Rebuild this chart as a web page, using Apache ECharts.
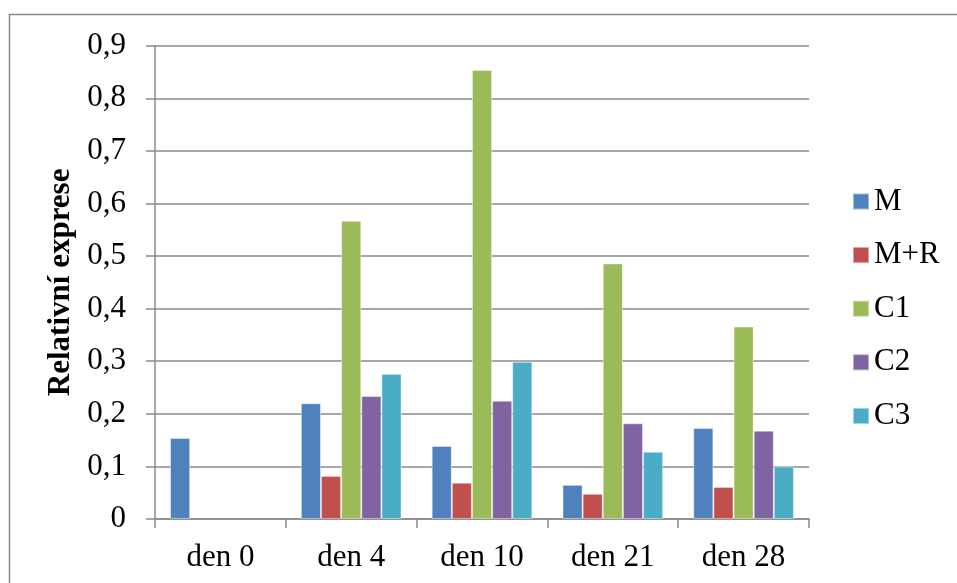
<!DOCTYPE html>
<html>
<head>
<meta charset="utf-8">
<script src="https://cdn.jsdelivr.net/npm/echarts@6/dist/echarts.min.js"></script>
<style>
  html, body { margin: 0; padding: 0; background: #fff; }
  #chart { width: 957px; height: 583px; }
</style>
</head>
<body>
<div id="chart"></div>
<script>
// Relative expression per sampling day
const categories = ['den 0', 'den 4', 'den 10', 'den 21', 'den 28'];
const seriesNames = ['M', 'M+R', 'C1', 'C2', 'C3'];
const valuesM  = [0.154, 0.220, 0.139, 0.065, 0.173];
const valuesMR = [null, 0.082, 0.069, 0.048, 0.061];
const valuesC1 = [null, 0.567, 0.854, 0.486, 0.366];
const valuesC2 = [null, 0.234, 0.225, 0.182, 0.168];
const valuesC3 = [null, 0.276, 0.299, 0.128, 0.100];
const colors = ['#4F81BD', '#C0504D', '#9BBB59', '#8064A2', '#4BACC6'];

const FONT = "'Liberation Serif', 'Times New Roman', serif";
const GRAY = '#8a8a8a';

const seriesData = [valuesM, valuesMR, valuesC1, valuesC2, valuesC3];

const chart = echarts.init(document.getElementById('chart'), null, { renderer: 'canvas' });

chart.setOption({
  animation: false,
  color: colors,
  graphic: [{
    type: 'rect',
    shape: { x: 9.5, y: 14.5, width: 1000, height: 700 },
    style: { fill: 'none', stroke: GRAY, lineWidth: 1.5 },
    silent: true
  }],
  grid: { left: 155, right: 148, top: 45.7, bottom: 64, containLabel: false },
  legend: {
    orient: 'vertical',
    left: 852,
    top: 186,
    padding: 0,
    itemWidth: 16,
    itemHeight: 16,
    itemGap: 22.6,
    icon: 'rect',
    textStyle: { fontFamily: FONT, fontSize: 31, color: '#000', lineHeight: 30 },
    data: seriesNames
  },
  xAxis: {
    type: 'category',
    data: categories,
    axisLine: { lineStyle: { color: GRAY, width: 1.5 } },
    axisTick: { show: true, length: 9, lineStyle: { color: GRAY, width: 1.5 } },
    axisLabel: { fontFamily: FONT, fontSize: 31, color: '#000', margin: 23 },
    splitLine: { show: false }
  },
  yAxis: {
    type: 'value',
    min: 0,
    max: 0.9,
    interval: 0.1,
    name: 'Relativní exprese',
    nameLocation: 'middle',
    nameGap: 78,
    nameRotate: 90,
    nameTextStyle: { fontFamily: FONT, fontSize: 31, fontWeight: 'bold', color: '#000' },
    axisLine: { show: true, lineStyle: { color: GRAY, width: 1.5 } },
    axisTick: { show: true, length: 9, lineStyle: { color: GRAY, width: 1.5 } },
    axisLabel: {
      fontFamily: FONT, fontSize: 31, color: '#000', margin: 29,
      formatter: v => (Math.round(v * 10) / 10).toString().replace('.', ',')
    },
    splitLine: { lineStyle: { color: GRAY, width: 1.5 } }
  },
  series: seriesNames.map((name, i) => ({
    name: name,
    type: 'bar',
    data: seriesData[i],
    barGap: '0%',
    barCategoryGap: '23%',
    itemStyle: { color: colors[i], borderColor: 'rgba(255,255,255,0.45)', borderWidth: 1 }
  }))
});
</script>
</body>
</html>
